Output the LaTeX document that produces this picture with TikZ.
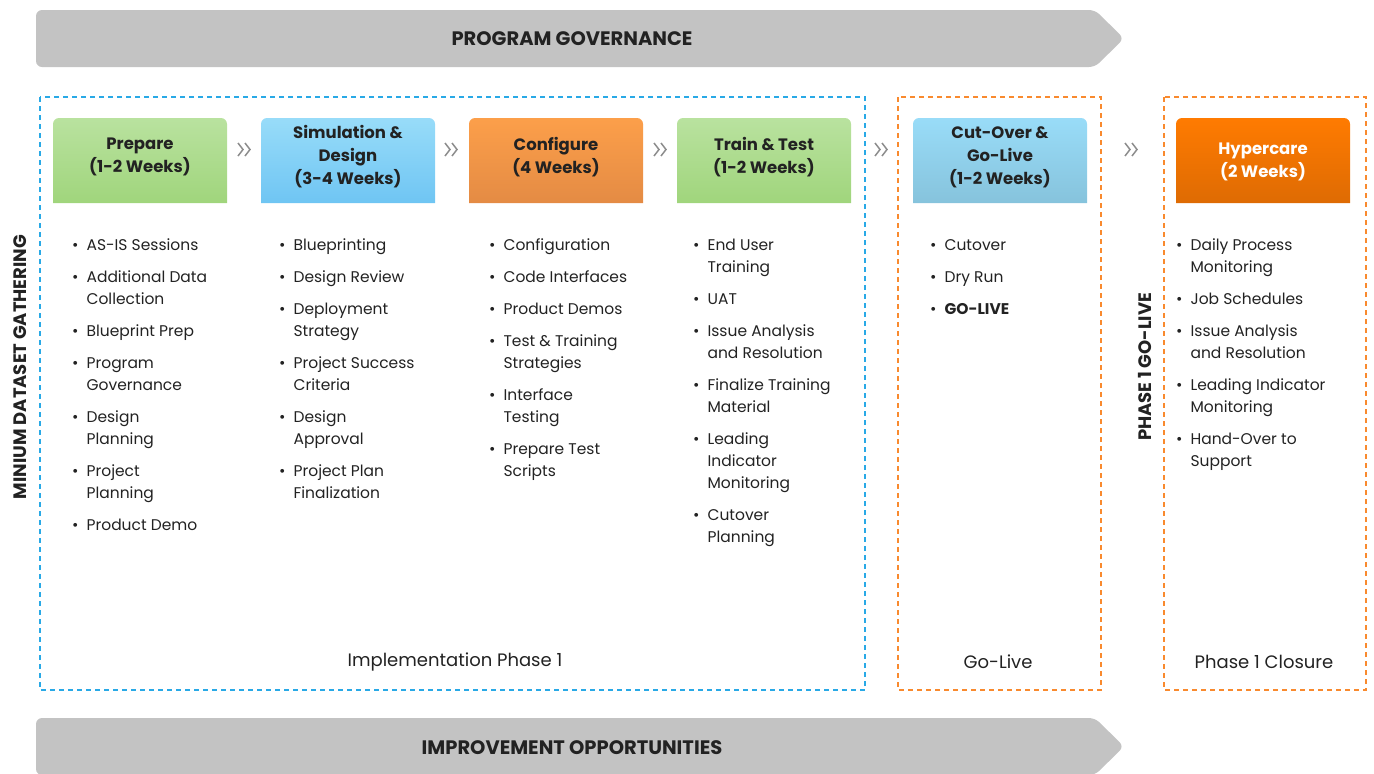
\documentclass[tikz,border=0pt]{standalone}
\usepackage{fontspec}
\setmainfont{Poppins}
\usetikzlibrary{positioning}

\definecolor{bannergray}{HTML}{C3C3C3}
\definecolor{inktext}{HTML}{222222}
\definecolor{chevgray}{HTML}{8C8C8C}
\definecolor{dashblue}{HTML}{29A9E6}
\definecolor{dashorange}{HTML}{F98A2E}
\definecolor{greenTop}{HTML}{B9E29F}
\definecolor{greenBot}{HTML}{A0D57C}
\definecolor{blueTop}{HTML}{98DCF9}
\definecolor{blueBot}{HTML}{6FC5F3}
\definecolor{orangeTop}{HTML}{FC9F4A}
\definecolor{orangeBot}{HTML}{E48B44}
\definecolor{cutTop}{HTML}{99DCF8}
\definecolor{cutBot}{HTML}{86C3DC}
\definecolor{hyperTop}{HTML}{FF7B01}
\definecolor{hyperBot}{HTML}{DE6B03}

% header box with rounded top corners, x = left edge
\newcommand{\headshape}[3]{%
  \shade[top color=#2, bottom color=#3] (#1,203) -- (#1,124) arc(180:270:6)
    -- ({#1+168},118) arc(270:360:6) -- ({#1+174},203) -- cycle;}

\begin{document}
\begin{tikzpicture}[x=1pt, y=-1pt,
    head/.style={align=center, text=inktext, font=\fontsize{16.5}{23}\selectfont\bfseries},
    items/.style={anchor=north west, inner sep=0pt, text=inktext, font=\fontsize{15.5}{22}\selectfont},
    bannertext/.style={text=inktext, font=\fontsize{19.5}{22}\selectfont\bfseries},
    sidetext/.style={rotate=90, text=inktext, font=\fontsize{18}{22}\selectfont\bfseries},
    footer/.style={text=inktext, font=\fontsize{18}{22}\selectfont},
    phasebox/.style={dashed, dash pattern=on 5pt off 4pt, line width=1.3pt},
    chev/.style={chevgray, line width=1.5pt}]
    \useasboundingbox (0,0) rectangle (1374,774);

    % banners
    \fill [bannergray, rounded corners=6pt] (36,10) -- (1095,10) -- (1124,38.5) -- (1095,67) -- (36,67) -- cycle;
    \node [bannertext] (governance) at (572,39) {PROGRAM GOVERNANCE};
    \fill [bannergray, rounded corners=6pt] (36,718) -- (1095,718) -- (1124,746.5) -- (1095,775) -- (36,775) -- cycle;
    \node [bannertext] (improvement) at (572,748) {IMPROVEMENT OPPORTUNITIES};

    % phase frames
    \draw [phasebox, dashblue] (40,97) rectangle (865,690);
    \draw [phasebox, dashorange] (898,97) rectangle (1101,690);
    \draw [phasebox, dashorange] (1164,97) rectangle (1366,690);

    \node [sidetext] (dataset) at (20,367) {MINIUM DATASET GATHERING};
    \node [sidetext] (golive) at (1145,367) {PHASE 1 GO-LIVE};

    % headers
    \headshape{53}{greenTop}{greenBot}
    \headshape{261}{blueTop}{blueBot}
    \headshape{469}{orangeTop}{orangeBot}
    \headshape{677}{greenTop}{greenBot}
    \headshape{913}{cutTop}{cutBot}
    \headshape{1176}{hyperTop}{hyperBot}
    \node [head] (prepare) at (140,157) {Prepare\\(1-2 Weeks)};
    \node [head] (simulation) at (348,157) {Simulation \&\\Design\\(3-4 Weeks)};
    \node [head] (configure) at (556,157) {Configure\\(4 Weeks)};
    \node [head] (train) at (764,157) {Train \& Test\\(1-2 Weeks)};
    \node [head] (cutover) at (1000,157) {Cut-Over \&\\Go-Live\\(1-2 Weeks)};
    \node [head, text=white] (hypercare) at (1263,162) {Hypercare\\(2 Weeks)};

    % chevrons between phases
    \foreach \cx in {244,451,660,881,1131} {
      \draw [chev] (\cx-6,143) -- (\cx-1,149.5) -- (\cx-6,156);
      \draw [chev] (\cx+1,143) -- (\cx+6,149.5) -- (\cx+1,156);
    }

    % activity lists
    \node [items] (prepareitems) at (72,235) {\begin{tabular}{@{}l@{\hspace{8pt}}l@{}}
      \textbullet & AS-IS Sessions\\[10pt]
      \textbullet & Additional Data\\ & Collection\\[10pt]
      \textbullet & Blueprint Prep\\[10pt]
      \textbullet & Program\\ & Governance\\[10pt]
      \textbullet & Design\\ & Planning\\[10pt]
      \textbullet & Project\\ & Planning\\[10pt]
      \textbullet & Product Demo
    \end{tabular}};
    \node [items] (simulationitems) at (279,235) {\begin{tabular}{@{}l@{\hspace{8pt}}l@{}}
      \textbullet & Blueprinting\\[10pt]
      \textbullet & Design Review\\[10pt]
      \textbullet & Deployment\\ & Strategy\\[10pt]
      \textbullet & Project Success\\ & Criteria\\[10pt]
      \textbullet & Design\\ & Approval\\[10pt]
      \textbullet & Project Plan\\ & Finalization
    \end{tabular}};
    \node [items] (configureitems) at (489,235) {\begin{tabular}{@{}l@{\hspace{8pt}}l@{}}
      \textbullet & Configuration\\[10pt]
      \textbullet & Code Interfaces\\[10pt]
      \textbullet & Product Demos\\[10pt]
      \textbullet & Test \& Training\\ & Strategies\\[10pt]
      \textbullet & Interface\\ & Testing\\[10pt]
      \textbullet & Prepare Test\\ & Scripts
    \end{tabular}};
    \node [items] (trainitems) at (693,235) {\begin{tabular}{@{}l@{\hspace{8pt}}l@{}}
      \textbullet & End User\\ & Training\\[10pt]
      \textbullet & UAT\\[10pt]
      \textbullet & Issue Analysis\\ & and Resolution\\[10pt]
      \textbullet & Finalize Training\\ & Material\\[10pt]
      \textbullet & Leading\\ & Indicator\\ & Monitoring\\[10pt]
      \textbullet & Cutover\\ & Planning
    \end{tabular}};
    \node [items] (cutoveritems) at (930,235) {\begin{tabular}{@{}l@{\hspace{8pt}}l@{}}
      \textbullet & Cutover\\[10pt]
      \textbullet & Dry Run\\[10pt]
      \textbullet & \textbf{GO-LIVE}
    \end{tabular}};
    \node [items] (hypercareitems) at (1176,235) {\begin{tabular}{@{}l@{\hspace{8pt}}l@{}}
      \textbullet & Daily Process\\ & Monitoring\\[10pt]
      \textbullet & Job Schedules\\[10pt]
      \textbullet & Issue Analysis\\ & and Resolution\\[10pt]
      \textbullet & Leading Indicator\\ & Monitoring\\[10pt]
      \textbullet & Hand-Over to\\ & Support
    \end{tabular}};

    % phase names
    \node [footer] (implementation) at (455,662) {Implementation Phase 1};
    \node [footer] (golivename) at (998,662) {Go-Live};
    \node [footer] (closure) at (1264,662) {Phase 1 Closure};
\end{tikzpicture}
\end{document}
